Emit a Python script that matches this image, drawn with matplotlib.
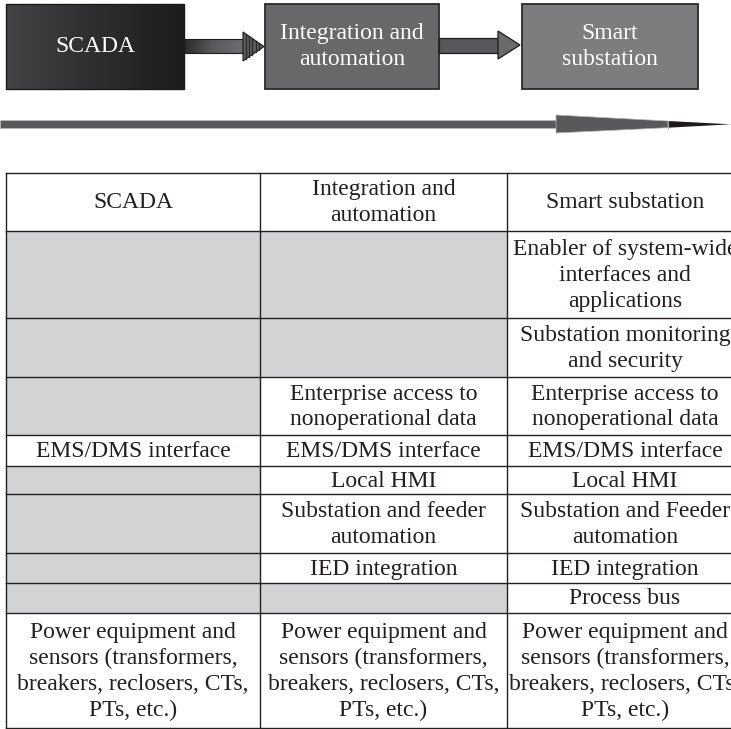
import matplotlib
matplotlib.use("Agg")
import matplotlib.pyplot as plt
import numpy as np
from matplotlib.patches import Rectangle, Polygon
from matplotlib.colors import LinearSegmentedColormap

# ---------------- data ----------------
stages = ["SCADA", "Integration and\nautomation", "Smart\nsubstation"]
header = ["SCADA", "Integration and\nautomation", "Smart substation"]
col_scada = [None, None, None, "EMS/DMS interface", None, None, None, None,
             "Power equipment and\nsensors (transformers,\nbreakers, reclosers, CTs,\nPTs, etc.)"]
col_integration = [None, None,
                   "Enterprise access to\nnonoperational data",
                   "EMS/DMS interface", "Local HMI",
                   "Substation and feeder\nautomation",
                   "IED integration", None,
                   "Power equipment and\nsensors (transformers,\nbreakers, reclosers, CTs,\nPTs, etc.)"]
col_smart = ["Enabler of system-wide\ninterfaces and\napplications",
             "Substation monitoring\nand security",
             "Enterprise access to\nnonoperational data",
             "EMS/DMS interface", "Local HMI",
             "Substation and Feeder\nautomation",
             "IED integration", "Process bus",
             "Power equipment and\nsensors (transformers,\nbreakers, reclosers, CTs,\nPTs, etc.)"]

# ---------------- layout (pixels) ----------------
W, H = 731, 729
col_edges = [6.3, 260, 507, 743]
row_edges = [173.3, 231, 318, 377, 435, 466, 494, 553, 583, 613, 728]
box_x = [(6, 184), (265, 439), (522, 698)]
box_y = (4, 89)

FONT = "Liberation Serif"
FS = 17
LS = 1.3
INK = "#231f20"
GRAY = "#d1d3d4"

fig = plt.figure(figsize=(W / 100, H / 100), dpi=100)
ax = fig.add_axes([0, 0, 1, 1])

# ---------- top boxes ----------
grad = np.linspace(0, 1, 256).reshape(1, -1)
cm_scada = LinearSegmentedColormap.from_list("sc", ["#444446", "#2e2e30", "#1c1c1c"])
x0, x1 = box_x[0]
ax.imshow(grad, extent=(x0, x1, box_y[1], box_y[0]), cmap=cm_scada, aspect="auto", zorder=1)
ax.add_patch(Rectangle((x0, box_y[0]), x1 - x0, box_y[1] - box_y[0], fill=False,
                       ec="#1a1a1a", lw=1.0, zorder=2))
for (bx0, bx1), fc in zip(box_x[1:], ["#68686b", "#7d7d80"]):
    ax.add_patch(Rectangle((bx0, box_y[0]), bx1 - bx0, box_y[1] - box_y[0], fc=fc,
                           ec="#2a2a2a", lw=1.3, zorder=2))
for (bx0, bx1), label in zip(box_x, stages):
    ax.text((bx0 + bx1) / 2, (box_y[0] + box_y[1]) / 2, label, color="white",
            ha="center", va="center", fontsize=FS, family=FONT, linespacing=LS, zorder=3)

# arrow 1 (gradient shaft, striped head)
cm_a1 = LinearSegmentedColormap.from_list("a1", ["#2a2a2a", "#5a5a5c", "#6e6e70"])
ax.imshow(grad, extent=(184, 243, 53, 39), cmap=cm_a1, aspect="auto", zorder=1)
ax.add_patch(Rectangle((184, 39), 59, 14, fill=False, ec="#1e1e1e", lw=0.8, zorder=2))
head1 = Polygon([(243, 32), (264, 46.5), (243, 61)], closed=True, fc="#5c5c5e",
                ec="#1e1e1e", lw=0.8, zorder=2)
ax.add_patch(head1)
for xs in np.arange(246, 262, 3.2):
    hh = 14.5 * (264 - xs) / 21
    ax.plot([xs, xs], [46.5 - hh, 46.5 + hh], color="#2a2a2a", lw=0.9, zorder=3)

# arrow 2
ax.add_patch(Rectangle((439, 38), 59, 15, fc="#58585a", ec="#1e1e1e", lw=0.9, zorder=2))
ax.add_patch(Polygon([(498, 31), (520, 45), (498, 59)], closed=True, fc="#6a6a6c",
                     ec="#1e1e1e", lw=0.9, zorder=2))

# long arrow
ax.add_patch(Rectangle((0, 120), 556, 8, fc="#58595b", ec="#b8b8b8", lw=0.5, zorder=2))
ax.add_patch(Polygon([(556, 115), (668, 121), (668, 127.7), (556, 133)], closed=True,
                     fc="#58595b", ec="#b8b8b8", lw=0.5, zorder=2))
ax.add_patch(Polygon([(668, 121), (731, 124.3), (668, 127.7)], closed=True,
                     fc="#1e1a1b", ec="none", zorder=2))
ax.plot([668, 668], [121, 127.7], color="#a0a0a0", lw=0.8, zorder=3)

# ---------- table ----------
columns = [col_scada, col_integration, col_smart]
for ci, col in enumerate(columns):
    cx0, cx1 = col_edges[ci], col_edges[ci + 1]
    ax.text((cx0 + cx1) / 2, (row_edges[0] + row_edges[1]) / 2, header[ci], color=INK,
            ha="center", va="center", fontsize=FS, family=FONT, linespacing=LS, zorder=3)
    for ri, cell in enumerate(col):
        ry0, ry1 = row_edges[ri + 1], row_edges[ri + 2]
        if cell is None:
            ax.add_patch(Rectangle((cx0, ry0), cx1 - cx0, ry1 - ry0, fc=GRAY, ec="none", zorder=1))
        else:
            ax.text((cx0 + cx1) / 2, (ry0 + ry1) / 2 + 1, cell, color=INK, ha="center",
                    va="center", fontsize=FS, family=FONT, linespacing=LS, zorder=3)

for y in row_edges:
    ax.plot([col_edges[0], col_edges[-1]], [y, y], color=INK, lw=1.0, zorder=4)
for x in col_edges:
    ax.plot([x, x], [row_edges[0], row_edges[-1]], color=INK, lw=1.0, zorder=4)

ax.set_xlim(0, W)
ax.set_ylim(H, 0)
ax.axis("off")
fig.savefig("out.png", dpi=100, facecolor="white")
